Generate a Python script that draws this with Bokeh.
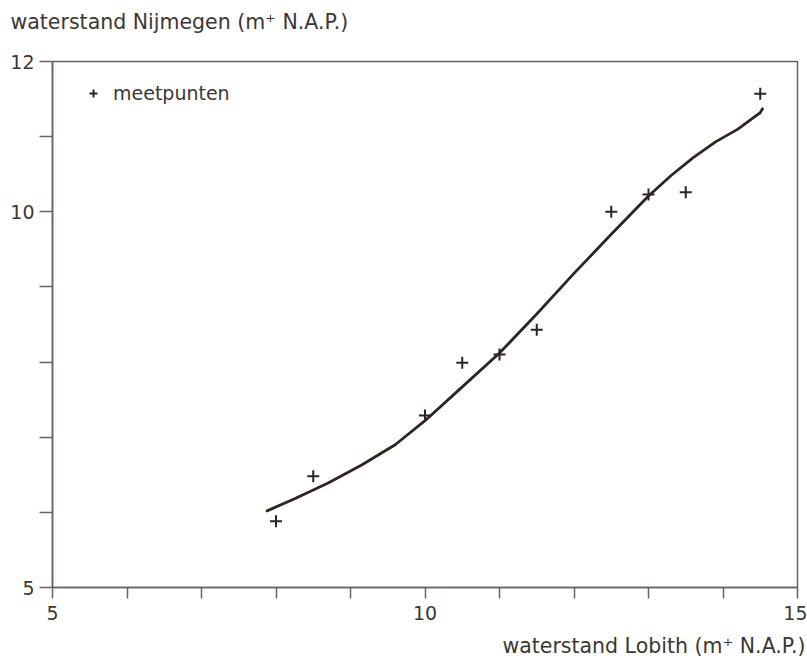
from bokeh.plotting import figure
from bokeh.models import Range1d, FixedTicker, Legend, LegendItem, Title
from bokeh.embed import file_html
from bokeh.resources import INLINE

# measured points (waterstand Lobith vs Nijmegen, m+ N.A.P.)
meet_x = [8.0, 8.5, 10.0, 10.5, 11.0, 11.5, 12.5, 13.0, 13.5, 14.5]
meet_y = [5.88, 6.48, 7.29, 7.99, 8.10, 8.43, 10.0, 10.23, 10.26, 11.57]

# fitted relation curve
curve_x = [7.88, 8.25, 8.7, 9.15, 9.6, 10.0, 10.5, 11.0, 11.5, 12.0, 12.5,
           13.0, 13.3, 13.6, 13.9, 14.2, 14.5, 14.53]
curve_y = [6.02, 6.18, 6.39, 6.63, 6.90, 7.22, 7.67, 8.12, 8.64, 9.18, 9.70,
           10.21, 10.48, 10.72, 10.93, 11.10, 11.32, 11.37]

x_major = [5, 10, 15]
x_minor = [6, 7, 8, 9, 11, 12, 13, 14]
y_major = [5, 10, 12]
y_minor = [6, 7, 8, 9, 11]

y_title = "waterstand Nijmegen (m\u207a N.A.P.)"
x_title = "waterstand Lobith (m\u207a N.A.P.)"

FONT = "DejaVu Sans"
FS = "19px"
TFS = "20.5px"
TXT = "#3b3735"
AX = "#6a6260"
INK = "#2e2420"

W, H = 807, 669
L, T, R, B = 52, 61, 10, 82
FH = H - T - B

p = figure(width=W, height=H, output_backend="svg", toolbar_location=None,
           x_range=Range1d(5, 15), y_range=Range1d(5, 12),
           min_border_left=L, min_border_right=R, min_border_top=T,
           min_border_bottom=B, background_fill_color="white",
           border_fill_color="white")
p.grid.visible = False
p.outline_line_color = AX
p.outline_line_width = 1.5

for ax, maj, mnr in ((p.xaxis[0], x_major, x_minor), (p.yaxis[0], y_major, y_minor)):
    ax.ticker = FixedTicker(ticks=maj, minor_ticks=mnr)
    ax.axis_line_color = AX
    ax.axis_line_width = 1.5
    ax.major_tick_line_color = AX
    ax.minor_tick_line_color = AX
    ax.major_tick_line_width = 1.5
    ax.minor_tick_line_width = 1.5
    ax.major_tick_in = 0
    ax.minor_tick_in = 0
    ax.major_label_text_font = FONT
    ax.major_label_text_font_size = FS
    ax.major_label_text_color = TXT
p.xaxis.major_tick_out = 11
p.xaxis.minor_tick_out = 11
p.xaxis.major_label_standoff = 7
p.yaxis.major_tick_out = 13
p.yaxis.minor_tick_out = 13
p.yaxis.major_label_standoff = 5

p.line(curve_x, curve_y, line_color=INK, line_width=2.8, line_join="round",
       line_cap="round")
pts = p.scatter(meet_x, meet_y, marker="cross", size=12, line_color=INK, line_width=2)

legend = Legend(items=[LegendItem(label="meetpunten", renderers=[pts])],
                location=(31, FH - 43), padding=0, spacing=0, border_line_color=None,
                background_fill_alpha=0, glyph_width=20, glyph_height=22,
                label_standoff=10, label_text_font=FONT,
                label_text_font_size=FS, label_text_color=TXT)
p.add_layout(legend)

# x-axis title, right aligned below the axis
p.add_layout(Title(text=x_title, align="right", offset=-8, standoff=18,
                   text_font=FONT, text_font_size=TFS, text_color=TXT,
                   text_font_style="normal"), "below")

# spacer next to the frame, then the y-axis title above it
p.add_layout(Title(text=" ", standoff=2, text_font=FONT, text_font_size=TFS,
                   text_color=TXT), "above")
p.add_layout(Title(text=y_title, align="left", offset=10 - L, standoff=0,
                   text_font=FONT, text_font_size=TFS, text_color=TXT,
                   text_font_style="normal"), "above")

open("out.html", "w").write(file_html(p, INLINE))
